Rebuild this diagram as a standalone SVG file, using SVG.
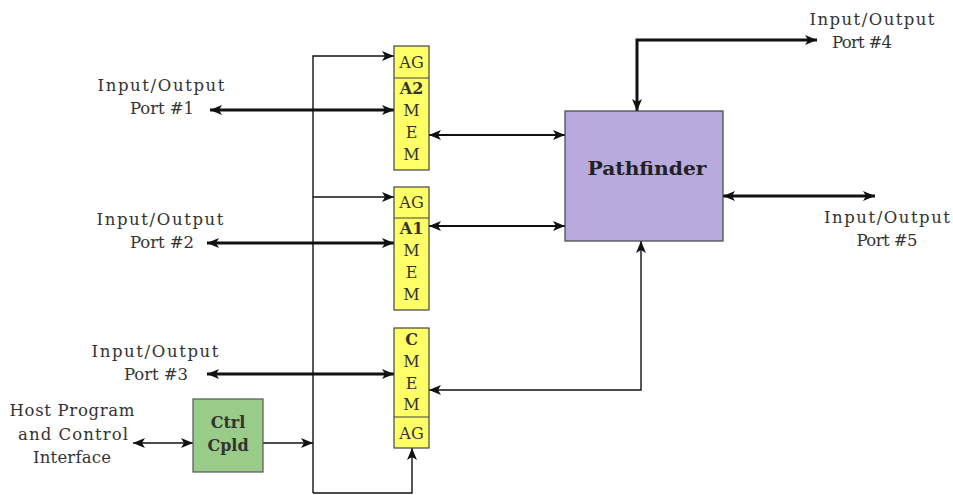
<svg xmlns="http://www.w3.org/2000/svg" width="953" height="495" viewBox="0 0 953 495">
<style>
.lbl{font-family:"DejaVu Serif","Liberation Serif",serif;font-size:16.5px;fill:#333;text-anchor:middle}
.blk{font-family:"DejaVu Serif","Liberation Serif",serif;font-size:16px;fill:#333;text-anchor:middle}
.bold{font-weight:bold}
.mem{fill:#ffff66;stroke:#444;stroke-width:1.2}
.thin{fill:none;stroke:#111;stroke-width:1.4}
.mid{fill:none;stroke:#111;stroke-width:2}
.thick{fill:none;stroke:#111;stroke-width:3}
</style>
<defs>
<marker id="ah" markerUnits="userSpaceOnUse" markerWidth="14" markerHeight="10" refX="12" refY="5" orient="auto-start-reverse" viewBox="0 0 14 10">
<path d="M0,0 L12,5 L0,10 L3,5 Z" fill="#111"/>
</marker>
</defs>
<rect width="953" height="495" fill="#fff"/>
<g id="connectors">
<path class="thin" d="M313,493 V56 H394" marker-end="url(#ah)"/>
<path class="thin" d="M313,197 H394" marker-end="url(#ah)"/>
<path class="thin" d="M313,493 H412 V448" marker-end="url(#ah)"/>
<path class="thin" d="M263,443 H313" marker-end="url(#ah)"/>
<path class="thin" d="M133,443 H193" marker-start="url(#ah)" marker-end="url(#ah)"/>
<path class="thick" d="M210,110 H394" marker-start="url(#ah)" marker-end="url(#ah)"/>
<path class="thick" d="M207,243 H394" marker-start="url(#ah)" marker-end="url(#ah)"/>
<path class="thick" d="M207,374 H394" marker-start="url(#ah)" marker-end="url(#ah)"/>
<path class="mid" d="M429,135 H565" marker-start="url(#ah)" marker-end="url(#ah)"/>
<path class="mid" d="M429,226 H565" marker-start="url(#ah)" marker-end="url(#ah)"/>
<path class="thin" d="M641,241 V390 H429" marker-start="url(#ah)" marker-end="url(#ah)"/>
<path class="thick" d="M637,111 V40 H817" marker-start="url(#ah)" marker-end="url(#ah)"/>
<path class="thick" d="M723,196 H875" marker-start="url(#ah)" marker-end="url(#ah)"/>
</g>
<g id="a2mem">
<rect class="mem" x="394" y="46" width="35" height="124"/>
<line x1="394" y1="78" x2="429" y2="78" stroke="#444" stroke-width="1.2"/>
<text class="blk" x="411.5" y="68">AG</text>
<text class="blk bold" x="411.5" y="94">A2</text>
<text class="blk" x="411.5" y="116">M</text>
<text class="blk" x="411.5" y="138">E</text>
<text class="blk" x="411.5" y="160">M</text>
</g>
<g id="a1mem">
<rect class="mem" x="394" y="187" width="35" height="123"/>
<line x1="394" y1="218" x2="429" y2="218" stroke="#444" stroke-width="1.2"/>
<text class="blk" x="411.5" y="208">AG</text>
<text class="blk bold" x="411.5" y="234">A1</text>
<text class="blk" x="411.5" y="256">M</text>
<text class="blk" x="411.5" y="278">E</text>
<text class="blk" x="411.5" y="300">M</text>
</g>
<g id="cmem">
<rect class="mem" x="394" y="328" width="35" height="120"/>
<line x1="394" y1="417" x2="429" y2="417" stroke="#444" stroke-width="1.2"/>
<text class="blk bold" x="411.5" y="345">C</text>
<text class="blk" x="411.5" y="367">M</text>
<text class="blk" x="411.5" y="389">E</text>
<text class="blk" x="411.5" y="410">M</text>
<text class="blk" x="411.5" y="439">AG</text>
</g>
<g id="ctrl">
<rect x="193" y="399" width="70" height="73" fill="#99cc88" stroke="#555" stroke-width="1.2"/>
<text class="blk bold" x="228" y="428" font-size="15">Ctrl</text>
<text class="blk bold" x="228" y="451" font-size="15">Cpld</text>
</g>
<g id="pathfinder">
<rect x="565" y="111" width="158" height="130" fill="#b8aadd" stroke="#444" stroke-width="1.2"/>
<text x="647" y="175" font-family="DejaVu Serif, Liberation Serif, serif" font-size="19" font-weight="bold" fill="#222" text-anchor="middle" textLength="119" lengthAdjust="spacingAndGlyphs">Pathfinder</text>
</g>
<g id="port1">
<text class="lbl" x="161" y="91" textLength="127">Input/Output</text>
<text class="lbl" x="162" y="114" textLength="64">Port #1</text>
</g>
<g id="port2">
<text class="lbl" x="160" y="225" textLength="127">Input/Output</text>
<text class="lbl" x="162" y="248" textLength="64">Port #2</text>
</g>
<g id="port3">
<text class="lbl" x="155" y="357" textLength="127">Input/Output</text>
<text class="lbl" x="156" y="380" textLength="64">Port #3</text>
</g>
<g id="port4">
<text class="lbl" x="872" y="25" textLength="125">Input/Output</text>
<text class="lbl" x="862" y="48" textLength="60">Port #4</text>
</g>
<g id="port5">
<text class="lbl" x="887" y="223" textLength="126">Input/Output</text>
<text class="lbl" x="887" y="246" textLength="61">Port #5</text>
</g>
<g id="host">
<text class="lbl" x="72" y="416" textLength="125">Host Program</text>
<text class="lbl" x="73" y="440" textLength="110">and Control</text>
<text class="lbl" x="72" y="463" textLength="78">Interface</text>
</g>
</svg>
